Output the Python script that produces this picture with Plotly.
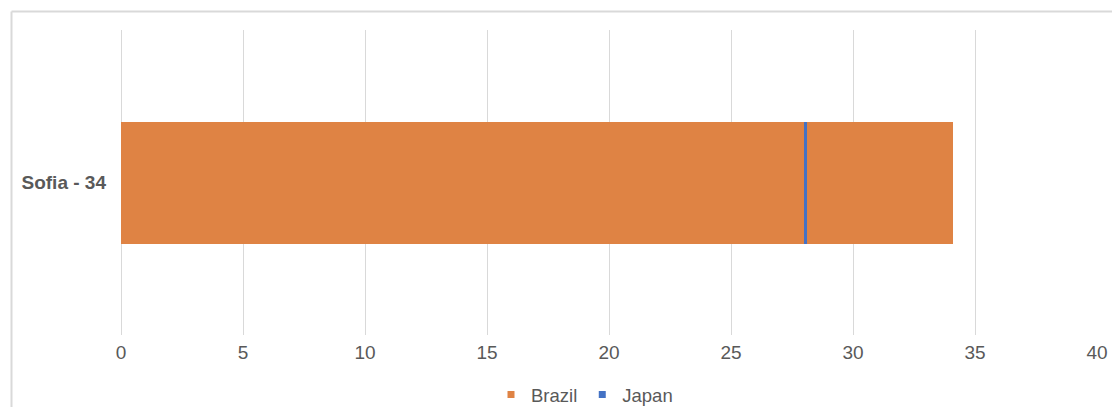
import plotly.graph_objects as go

categories = ["Sofia - 34"]
brazil_values = [34.1]
japan_start = [28.0]
japan_values = [0.1]
x_ticks = [0, 5, 10, 15, 20, 25, 30, 35, 40]

ORANGE = "#DF8344"
BLUE = "#4472C4"
TXT = "#595959"
FONT = "Liberation Sans, Arial, sans-serif"

fig = go.Figure()
fig.add_trace(go.Bar(
    y=categories, x=brazil_values, orientation="h", name="Brazil",
    marker=dict(color=ORANGE, line=dict(width=0)), width=0.4, showlegend=False,
))
fig.add_trace(go.Bar(
    y=categories, x=japan_values, base=japan_start, orientation="h", name="Japan",
    marker=dict(color=BLUE, line=dict(width=0)), width=0.4, showlegend=False,
))
# legend entries (small square swatches)
for nm, col in [("Brazil", ORANGE), ("Japan", BLUE)]:
    fig.add_trace(go.Scatter(
        x=[None], y=[None], mode="markers", name=nm,
        marker=dict(symbol="square", size=7, color=col),
    ))

W, H = 1112, 407
l, r, t, b = 121, 15, 30, 72
pw, ph = W - l - r, H - t - b
bx = (11.5 - l) / pw
by = 1 + (t - 11.5) / ph

fig.update_layout(
    width=W, height=H,
    margin=dict(l=l, r=r, t=t, b=b, autoexpand=False),
    barmode="overlay",
    plot_bgcolor="white", paper_bgcolor="white",
    font=dict(family=FONT, size=19, color=TXT),
    xaxis=dict(range=[0, 40], tickvals=x_ticks, showgrid=True, gridcolor="#D9D9D9",
               gridwidth=1, zeroline=True, zerolinecolor="#D9D9D9", zerolinewidth=1,
               showline=False, ticks="",
               ticklabelstandoff=4,
               tickfont=dict(size=19, color=TXT)),
    yaxis=dict(range=[-0.5, 0.5], showgrid=False, zeroline=False, showline=False,
               ticks="", ticklabelstandoff=14,
               tickfont=dict(size=19, color=TXT, family=FONT, weight="bold")),
    legend=dict(orientation="h", x=(511 - 20 - l) / pw, xanchor="left",
                yref="container", y=(H - 395) / H, yanchor="middle",
                font=dict(size=18.5, color=TXT), itemwidth=30,
                traceorder="normal", bgcolor="rgba(0,0,0,0)"),
    bargap=0,
    shapes=[
        dict(type="line", xref="paper", yref="paper", x0=bx, x1=bx, y0=-0.5, y1=by,
             line=dict(color="#D9D9D9", width=2), layer="above"),
        dict(type="line", xref="paper", yref="paper", x0=bx, x1=1.2, y0=by, y1=by,
             line=dict(color="#D9D9D9", width=2), layer="above"),
    ],
)

fig.write_html("out.html")
